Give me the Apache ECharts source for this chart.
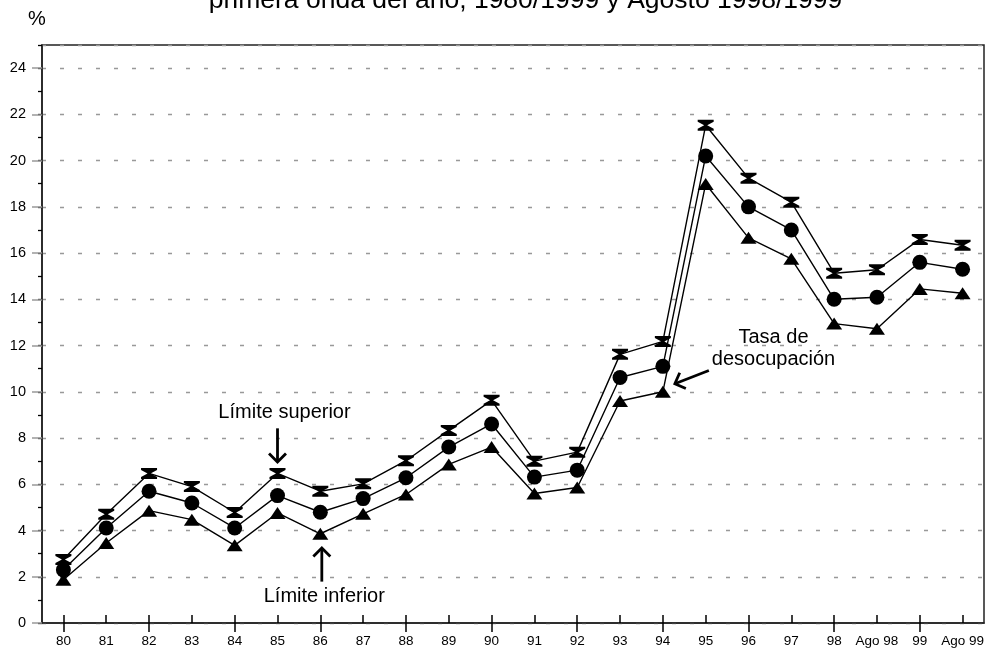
<!DOCTYPE html>
<html><head><meta charset="utf-8">
<script src="https://cdn.jsdelivr.net/npm/echarts@6/dist/echarts.min.js"></script>
<style>html,body{margin:0;padding:0;background:#fff}#c{width:987px;height:649px}</style>
</head><body><div id="c"></div>
<script>
const categories = ['80','81','82','83','84','85','86','87','88','89','90','91','92','93','94','95','96','97','98','Ago 98','99','Ago 99'];
const upperLimit = [2.75,4.7,6.47,5.9,4.78,6.47,5.7,6.02,7.02,8.33,9.63,7.0,7.39,11.62,12.18,21.53,19.24,18.2,15.13,15.28,16.59,16.34];
const unemploymentRate = [2.3,4.11,5.7,5.19,4.11,5.51,4.79,5.38,6.28,7.61,8.61,6.31,6.61,10.62,11.1,20.2,18.0,17.0,14.0,14.09,15.6,15.3];
const lowerLimit = [1.87,3.46,4.86,4.47,3.36,4.76,3.86,4.72,5.56,6.86,7.61,5.6,5.86,9.6,10.0,18.99,16.66,15.75,12.95,12.73,14.45,14.26];
const titleText = 'primera onda del año, 1980/1999 y Agosto 1998/1999';
const unitText = '%';
const yMin = 0, yMax = 25, yMajor = 2, yMinor = 1;

// annotations anchored in data space (category, value) with a small pixel shift
const notes = [
  {text:'Límite superior', cat:'85', val:9.12, dx:7},
  {text:'Límite inferior', cat:'86', val:1.14, dx:4},
  {text:'Tasa de', cat:'96', val:12.37, dx:25},
  {text:'desocupación', cat:'96', val:11.38, dx:25}
];
const arrows = [
  {cat:'85', from:8.42, to:6.96, dx0:0, dx1:0},
  {cat:'86', from:1.79, to:3.24, dx0:1.5, dx1:1.5},
  {cat:'94', from:10.92, to:10.35, dx0:46, dx1:12}
];

const FONT = '"Liberation Sans", Arial, sans-serif';
const chart = echarts.init(document.getElementById('c'), null, {renderer:'canvas'});
const hourglass = 'path://M0,0 L16,0 L16,2 L9.5,5.5 L16,9 L16,11 L0,11 L0,9 L6.5,5.5 L0,2 Z';

const lineSeries = (name, data, symbol, size) => ({
  name, type:'line', data, symbol, symbolSize:size,
  xAxisIndex:0, yAxisIndex:0,
  lineStyle:{color:'#000', width:1.4},
  itemStyle:{color:'#000', borderWidth:0},
  showSymbol:true, animation:false, z:5
});

chart.setOption({
  animation:false,
  grid:{left:42, right:3, top:45, bottom:26, show:true, borderColor:'#222', borderWidth:1.5, backgroundColor:'transparent'},
  xAxis:[
    {type:'category', data:categories, boundaryGap:true, position:'bottom',
     axisLine:{show:true, lineStyle:{color:'#222', width:1.6}},
     axisTick:{show:true, inside:true, length:8, alignWithLabel:true, lineStyle:{color:'#000', width:1.5}},
     axisLabel:{interval:0, color:'#000', fontSize:13.5, fontFamily:FONT, margin:11},
     splitLine:{show:false}},
    {type:'category', data:categories, boundaryGap:true, position:'bottom',
     axisLine:{show:false},
     axisTick:{show:true, inside:false, length:9, alignWithLabel:true, lineStyle:{color:'#000', width:1.5}},
     axisLabel:{show:false}, splitLine:{show:false}}
  ],
  yAxis:[
    {type:'value', min:yMin, max:yMax, interval:yMinor, position:'left',
     axisLine:{show:true, lineStyle:{color:'#222', width:1.6}},
     axisTick:{show:true, length:4, lineStyle:{color:'#000', width:1.3}},
     axisLabel:{show:false}, splitLine:{show:false}},
    {type:'value', min:yMin, max:yMax, interval:yMajor, position:'left',
     axisLine:{show:false},
     axisTick:{show:true, length:10, lineStyle:{color:'#999', width:1.5}},
     axisLabel:{show:true, color:'#000', fontSize:14.5, fontFamily:FONT, margin:16, showMaxLabel:false},
     splitLine:{show:true, lineStyle:{color:'#999', width:1.3, type:[4,14]}}}
  ],
  series:[
    lineSeries('Límite superior', upperLimit, hourglass, [16,11]),
    lineSeries('Tasa de desocupación', unemploymentRate, 'circle', 15),
    lineSeries('Límite inferior', lowerLimit, 'triangle', [16,12])
  ]
});

function px(cat, val){ return chart.convertToPixel({xAxisIndex:0, yAxisIndex:0}, [cat, val]); }
const graphics = [];
graphics.push({type:'text', style:{text:titleText, x:525.5, y:0.5, fill:'#000', font:'26.5px '+FONT, textAlign:'center', textVerticalAlign:'middle'}});
graphics.push({type:'text', style:{text:unitText, x:37, y:19.5, fill:'#000', font:'20px '+FONT, textAlign:'center', textVerticalAlign:'middle'}});
notes.forEach(n => {
  const p = px(n.cat, n.val);
  graphics.push({type:'text', z:10, style:{text:n.text, x:p[0]+n.dx, y:p[1], fill:'#000', font:'20px '+FONT, textAlign:'center', textVerticalAlign:'middle'}});
});
arrows.forEach(a => {
  const p0 = px(a.cat, a.from), p1 = px(a.cat, a.to);
  const x0 = p0[0]+a.dx0, y0 = p0[1], x1 = p1[0]+a.dx1, y1 = p1[1];
  let ux = x1-x0, uy = y1-y0; const L = Math.hypot(ux, uy); ux/=L; uy/=L;
  const h = 12, c = Math.SQRT1_2;
  const ax = x1 - h*(ux*c - uy*c), ay = y1 - h*(ux*c + uy*c);
  const bx = x1 - h*(ux*c + uy*c), by = y1 - h*(-ux*c + uy*c);
  graphics.push({type:'line', z:10, shape:{x1:x0, y1:y0, x2:x1, y2:y1}, style:{stroke:'#000', lineWidth:2.8}});
  graphics.push({type:'polyline', z:10, shape:{points:[[ax,ay],[x1,y1],[bx,by]]}, style:{stroke:'#000', lineWidth:2.8, fill:null}});
});
chart.setOption({graphic:graphics});
</script>
</body></html>
